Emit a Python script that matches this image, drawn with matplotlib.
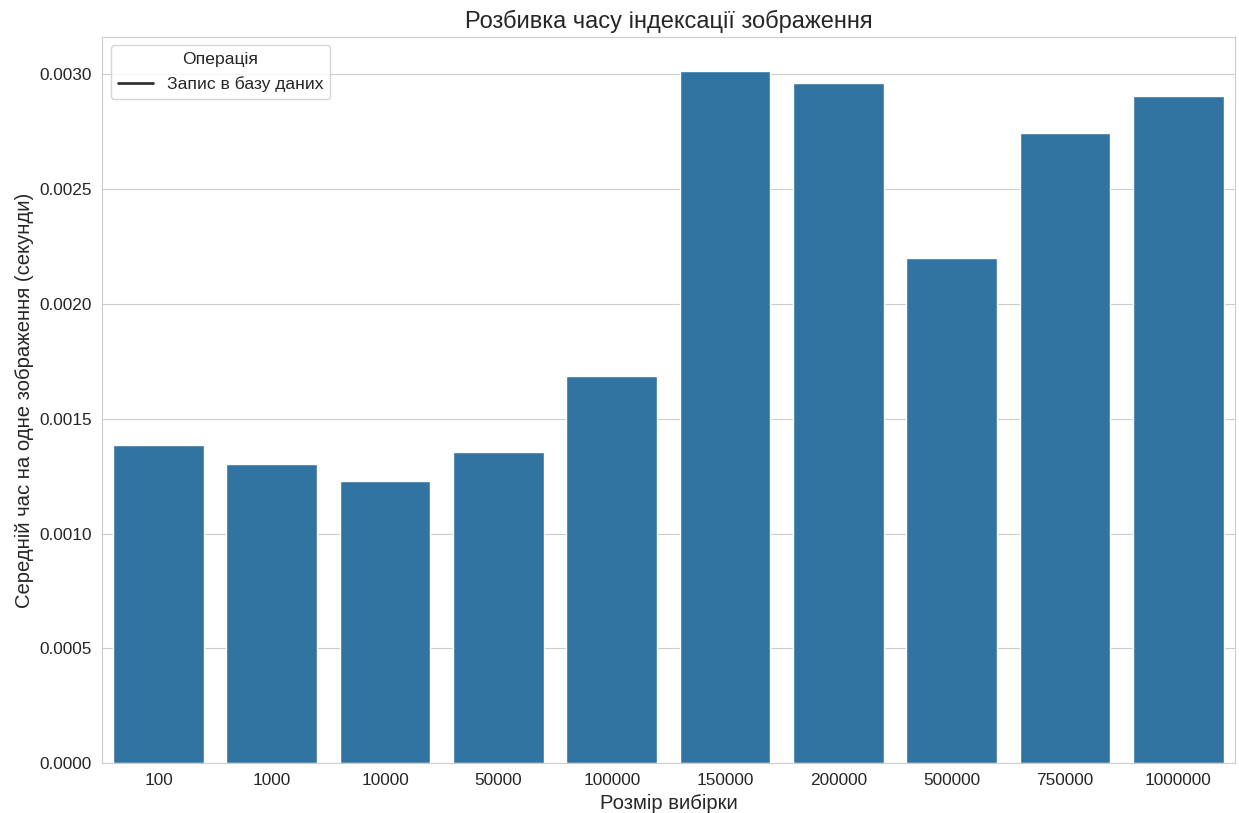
import matplotlib
matplotlib.use("Agg")
import matplotlib.pyplot as plt
from matplotlib.lines import Line2D
import seaborn as sns

# Average per-image time spent writing to the database, by sample size
sample_sizes = ["100", "1000", "10000", "50000", "100000",
                "150000", "200000", "500000", "750000", "1000000"]
db_write_time = [0.001384, 0.001305, 0.001228, 0.001357, 0.001687,
                 0.003013, 0.002962, 0.002198, 0.002743, 0.002904]

title = "Розбивка часу індексації зображення"
x_label = "Розмір вибірки"
y_label = "Середній час на одне зображення (секунди)"
legend_title = "Операція"
legend_entry = "Запис в базу даних"

sns.set_style("whitegrid")
plt.rcParams["font.family"] = ["Liberation Sans", "DejaVu Sans"]

fig = plt.figure(figsize=(12.39, 8.13), dpi=100)
ax = fig.add_axes([0.0822, 0.0611, 0.9146, 0.8938])

sns.barplot(x=sample_sizes, y=db_write_time, color="#1f77b4", ax=ax)

ax.set_title(title, fontsize=17)
ax.set_xlabel(x_label, fontsize=14.6)
ax.set_ylabel(y_label, fontsize=14.6)
ax.tick_params(axis="both", labelsize=12.4)
ax.yaxis.set_major_formatter(matplotlib.ticker.FormatStrFormatter("%.4f"))

handle = Line2D([0], [0], color="#333333", lw=2)
leg = ax.legend([handle], [legend_entry], title=legend_title, loc="upper left",
                fontsize=12.6, title_fontsize=12.6)

fig.savefig("out.png", dpi=100)
